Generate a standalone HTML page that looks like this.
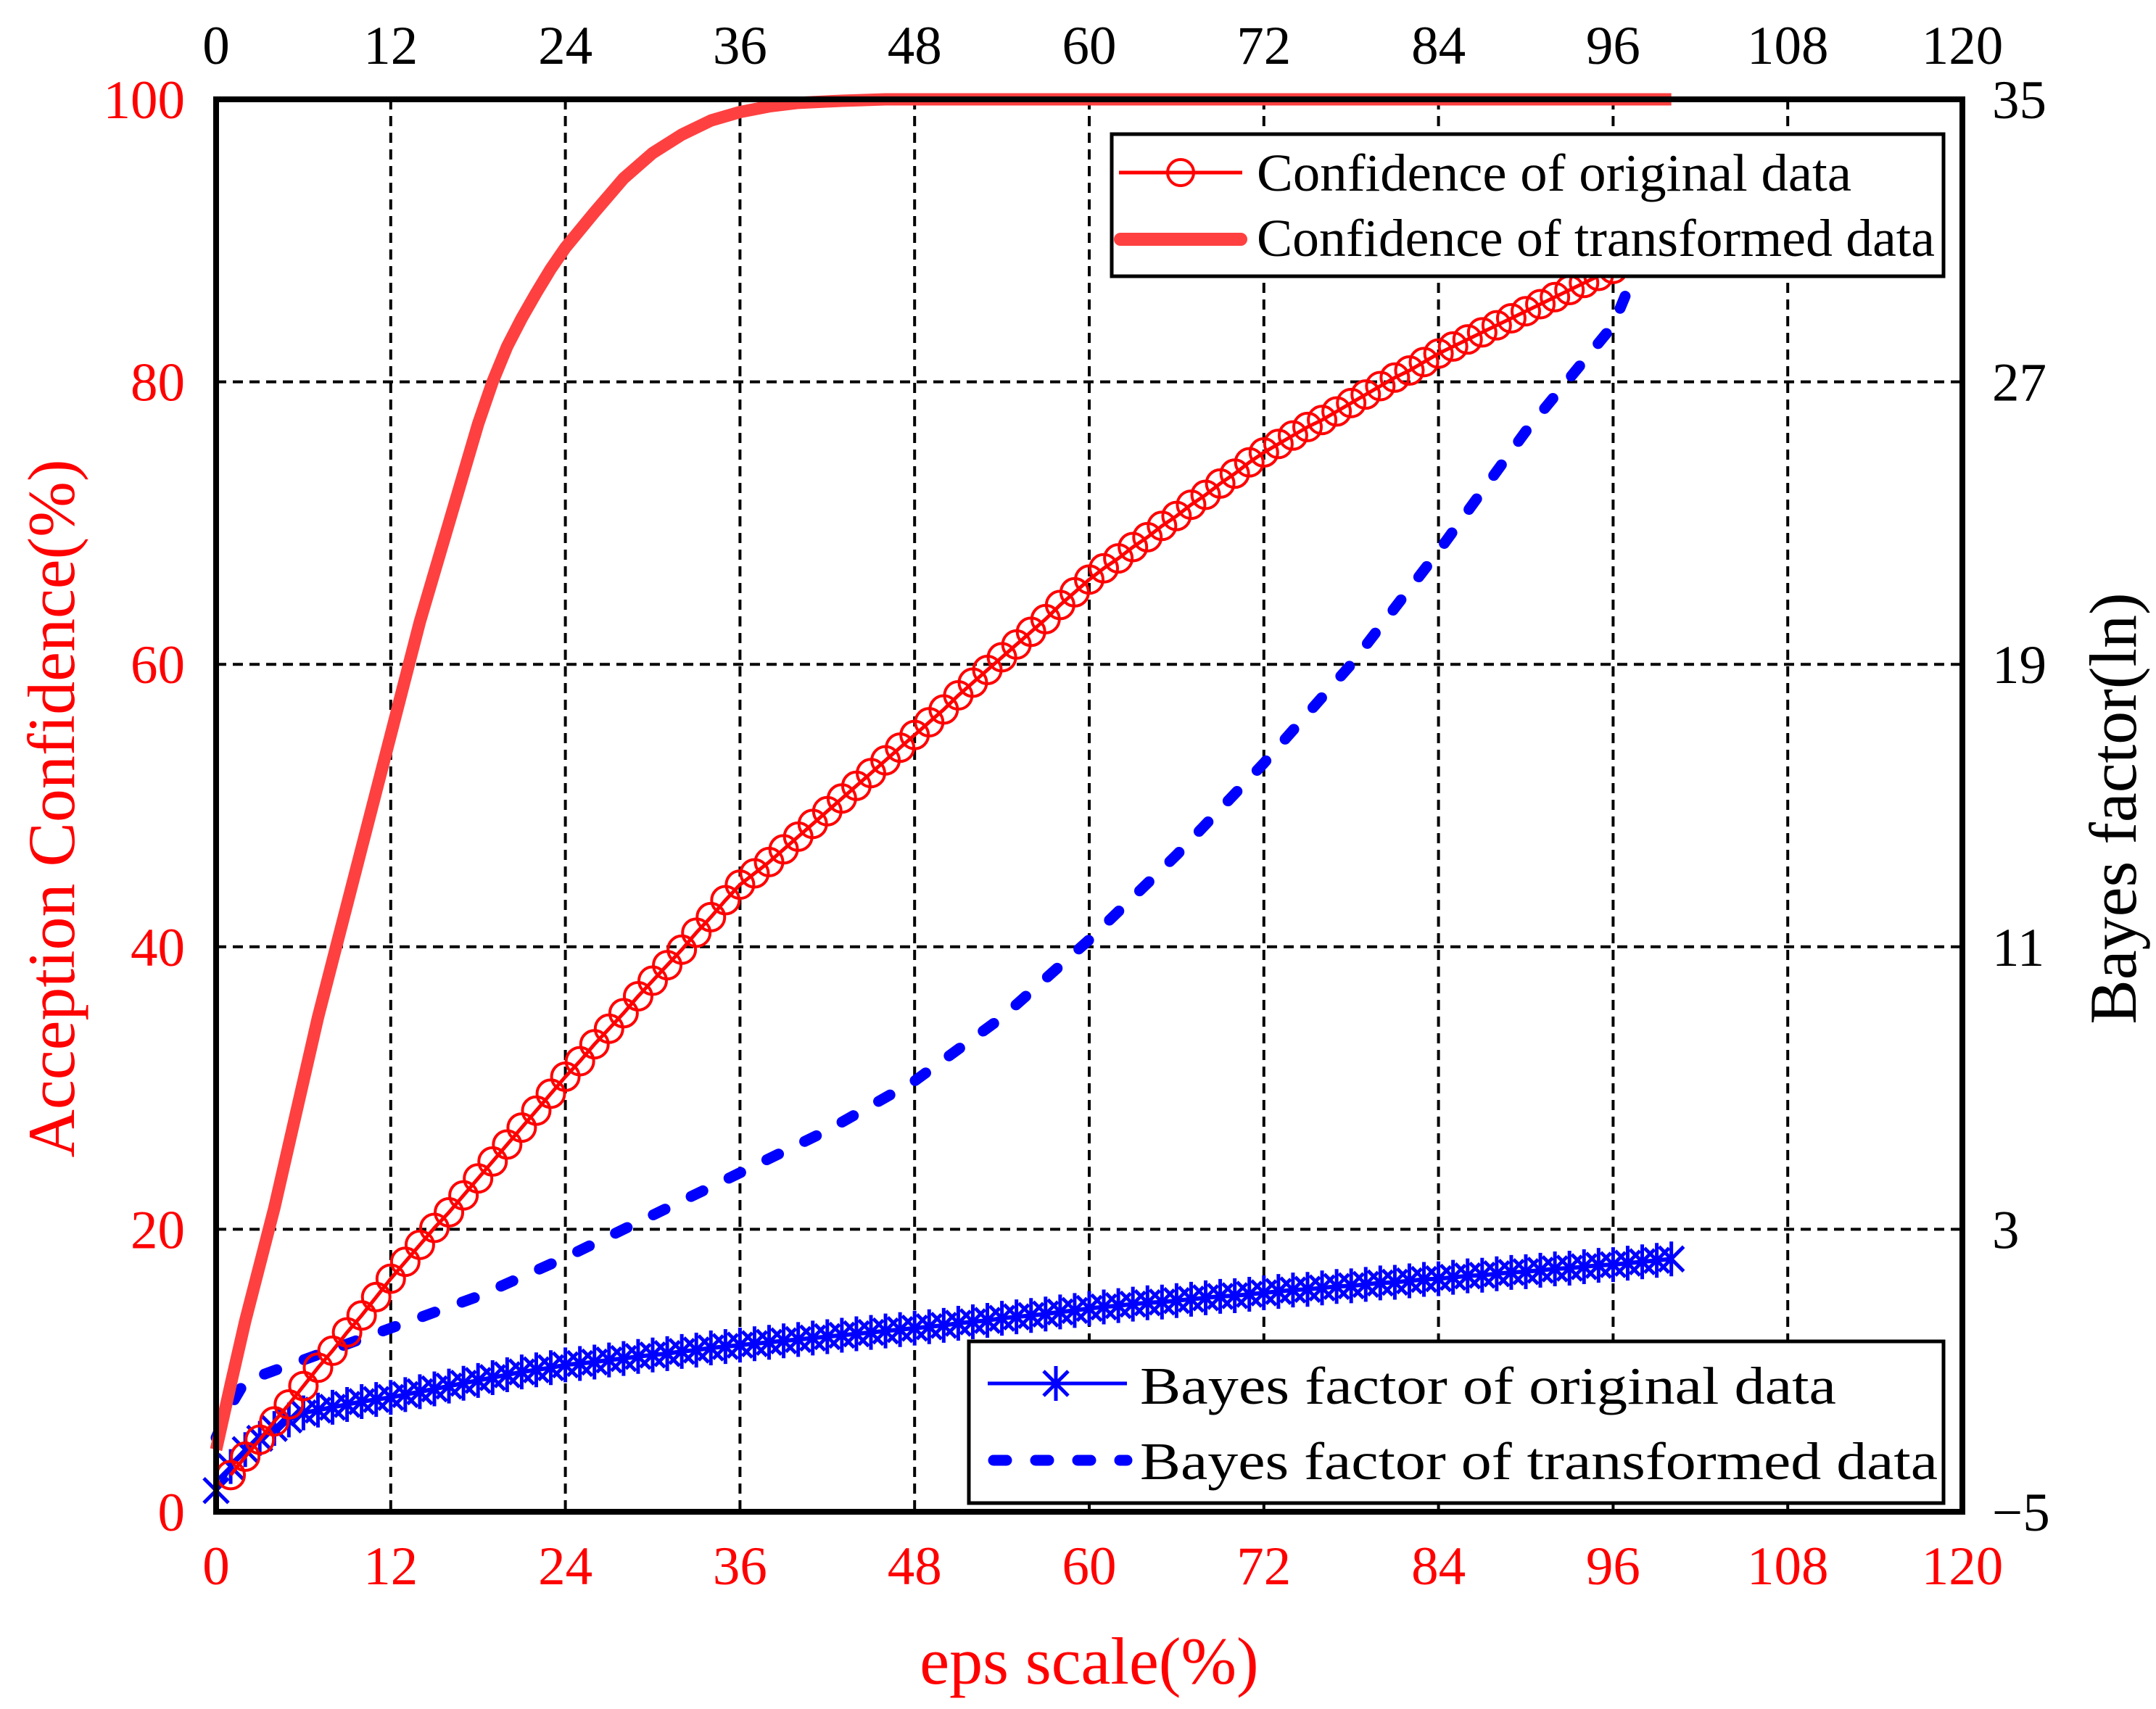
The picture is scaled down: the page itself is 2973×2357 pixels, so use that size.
<!DOCTYPE html>
<html><head><meta charset="utf-8"><style>
html,body{margin:0;padding:0;background:#fff;}
svg{display:block;font-family:"Liberation Serif",serif;}
</style></head><body>
<svg id="chart" width="2973" height="2357" viewBox="0 0 2973 2357" xmlns="http://www.w3.org/2000/svg">
<g id="grid"></g>
<g id="series"></g>
<g id="axes"></g>
<text x="1502" y="2322" font-size="92" fill="#ff0000" text-anchor="middle">eps scale(%)</text>
<text transform="translate(102,1115) rotate(-90)" font-size="92" fill="#ff0000" text-anchor="middle">Acception Confidence(%)</text>
<text transform="translate(2945,1115) rotate(-90)" font-size="92" fill="#000" text-anchor="middle">Bayes factor(ln)</text>
<g id="legend-top">
<rect x="1533" y="185" width="1147" height="196" fill="#fff" stroke="#000" stroke-width="5"/>
<line x1="1543" y1="238" x2="1713" y2="238" stroke="#ff0000" stroke-width="5"/>
<circle cx="1628" cy="238" r="18" fill="none" stroke="#ff0000" stroke-width="4"/>
<text x="1733" y="263" font-size="73" textLength="820" lengthAdjust="spacingAndGlyphs">Confidence of original data</text>
<line x1="1545" y1="330" x2="1711" y2="330" stroke="#ff4040" stroke-width="18" stroke-linecap="round"/>
<text x="1733" y="353" font-size="73" textLength="935" lengthAdjust="spacingAndGlyphs">Confidence of transformed data</text>
</g>
<g id="legend-bottom">
<rect x="1336" y="1850" width="1344" height="223" fill="#fff" stroke="#000" stroke-width="5"/>
<line x1="1362" y1="1908" x2="1554" y2="1908" stroke="#0000ff" stroke-width="5"/>
<g stroke="#0000ff" stroke-width="5">
<line x1="1456" y1="1884" x2="1456" y2="1932"/>
<line x1="1439" y1="1891" x2="1473" y2="1925"/>
<line x1="1439" y1="1925" x2="1473" y2="1891"/>
</g>
<text x="1572" y="1936" font-size="73" textLength="960" lengthAdjust="spacingAndGlyphs">Bayes factor of original data</text>
<line x1="1370" y1="2014" x2="1554" y2="2014" stroke="#0000ff" stroke-width="15" stroke-linecap="round" stroke-dasharray="18 40"/>
<text x="1572" y="2040" font-size="73" textLength="1100" lengthAdjust="spacingAndGlyphs">Bayes factor of transformed data</text>
</g>
</svg>
<script>
// ---- data ----
const xTicks = [0,12,24,36,48,60,72,84,96,108,120];
const leftTicks = [0,20,40,60,80,100];
const rightTicks = [-5,3,11,19,27,35];

const confTransX = [0,1,2,3,4,5,6,7,8,9,10,11,12,13,14,15,16,17,18,19,20,21,22,23,24,26,28,30,32,34,36,38,40,43,46,100];
const confTransY = [4.4,9,13.5,17.5,21.5,26,30.5,35,39,43,47,51,55,59,63,66.5,70,73.5,77,80,82.5,84.5,86.3,88,89.5,92,94.4,96.2,97.5,98.5,99.1,99.5,99.75,99.9,100,100];

const confOrigY = [2.6,3.9,5.1,6.4,7.6,8.9,10.2,11.4,12.7,13.9,15.2,16.5,17.7,18.9,20.1,21.2,22.4,23.6,24.8,26.0,27.2,28.4,29.6,30.8,31.9,33.1,34.2,35.3,36.5,37.6,38.7,39.8,41.0,42.1,43.3,44.4,45.2,46.0,46.9,47.8,48.7,49.6,50.5,51.4,52.3,53.2,54.1,55.0,55.9,56.8,57.8,58.7,59.6,60.5,61.4,62.3,63.2,64.2,65.1,66.0,66.8,67.5,68.3,69.0,69.8,70.5,71.3,72.0,72.8,73.5,74.3,75.0,75.6,76.2,76.8,77.3,77.9,78.5,79.1,79.7,80.3,80.8,81.4,82.0,82.5,83.0,83.5,84.0,84.5,85.0,85.5,86.0,86.5,87.0,87.5,88.0,88.5];

const bayesOrigPct = [1.5,3.2,4.4,5.2,5.9,6.5,7.0,7.2,7.4,7.6,7.8,7.95,8.1,8.3,8.5,8.7,8.9,9.1,9.3,9.5,9.7,9.9,10.05,10.2,10.4,10.5,10.6,10.75,10.85,11.0,11.1,11.2,11.35,11.45,11.6,11.7,11.8,11.9,12.0,12.1,12.2,12.3,12.4,12.5,12.6,12.7,12.8,12.9,13.0,13.1,13.2,13.35,13.45,13.55,13.7,13.8,13.9,14.0,14.15,14.25,14.4,14.5,14.6,14.7,14.8,14.85,14.95,15.05,15.15,15.25,15.3,15.4,15.5,15.6,15.7,15.75,15.85,15.95,16.0,16.1,16.2,16.25,16.35,16.45,16.5,16.6,16.7,16.75,16.85,16.95,17.0,17.1,17.2,17.25,17.35,17.45,17.5,17.6,17.7,17.8,17.9];

const bayesTransX = [0,1,2,4,6,9,12,18,24,30,36,42,48,54,60,66,72,78,84,90,96,98];
const bayesTransY = [-2.9,-2.0,-1.3,-1.0,-0.7,-0.25,0.2,1.1,2.2,3.4,4.6,5.8,7.2,9.0,11.2,13.6,16.2,19.0,22.2,25.6,28.6,30.6];

// ---- scales ----
const X0=298, X1=2706, Y0=137, Y1=2085;
const sx = v => X0 + (v-0)/(120-0)*(X1-X0);
const syL = v => Y1 - (v-0)/(100-0)*(Y1-Y0);
const syR = v => Y1 - (v-(-5))/(35-(-5))*(Y1-Y0);
const NS="http://www.w3.org/2000/svg";
function mk(tag, attrs, parent){const e=document.createElementNS(NS,tag);for(const k in attrs)e.setAttribute(k,attrs[k]);parent.appendChild(e);return e;}

const grid=document.getElementById('grid');
const series=document.getElementById('series');
const axes=document.getElementById('axes');

xTicks.forEach((t,i)=>{
  if(i>0 && i<xTicks.length-1){
    const l=mk('line',{x1:sx(t),y1:Y0,x2:sx(t),y2:Y1,stroke:'#000','stroke-width':4,'stroke-dasharray':'14 9'},grid);
    
    
  }
  const b=mk('text',{x:sx(t),y:2185,'font-size':75,fill:'#ff0000','text-anchor':'middle'},axes);
  b.textContent=t;
  
  
  const tp=mk('text',{x:sx(t),y:88,'font-size':75,fill:'#000','text-anchor':'middle'},axes);
  tp.textContent=t;
  
  
});
leftTicks.forEach((t,i)=>{
  if(i>0 && i<leftTicks.length-1){
    const l=mk('line',{x1:X0,y1:syL(t),x2:X1,y2:syL(t),stroke:'#000','stroke-width':4,'stroke-dasharray':'14 9'},grid);
    
    
  }
  const lb=mk('text',{x:255,y:syL(t)+26,'font-size':75,fill:'#ff0000','text-anchor':'end'},axes);
  lb.textContent=t;
  
  
});
rightTicks.forEach(t=>{
  const lb=mk('text',{x:2747,y:syR(t)+26,'font-size':75,fill:'#000','text-anchor':'start'},axes);
  lb.textContent=(t<0?'\u2212'+(-t):t);
  
  
});
const frame=mk('rect',{x:X0,y:Y0,width:X1-X0,height:Y1-Y0,fill:'none',stroke:'#000','stroke-width':8},axes);



// Bayes transformed (dashed)
let d=bayesTransX.map((x,i)=>(i?'L':'M')+sx(x)+' '+syR(bayesTransY[i])).join(' ');
const bt=mk('path',{d:d,fill:'none',stroke:'#0000ff','stroke-width':15,'stroke-linecap':'round','stroke-linejoin':'round','stroke-dasharray':'18 40'},series);



// Bayes original (stars)
const bo=bayesOrigPct.map(p=>-5+p*0.4);
d=bo.map((v,i)=>(i?'L':'M')+sx(i)+' '+syR(v)).join(' ');
const bol=mk('path',{d:d,fill:'none',stroke:'#0000ff','stroke-width':6},series);


const starG=mk('g',{stroke:'#0000ff','stroke-width':5},series);


bo.forEach((v,i)=>{
  const cx=sx(i), cy=syR(v), r=24, q=17;
  const s=mk('path',{d:`M${cx} ${cy-r}L${cx} ${cy+r}M${cx-q} ${cy-q}L${cx+q} ${cy+q}M${cx-q} ${cy+q}L${cx+q} ${cy-q}`},starG);
  
  
});

// Confidence original (circles)
d=confOrigY.map((v,i)=>(i?'L':'M')+sx(i+1)+' '+syL(v)).join(' ');
const col=mk('path',{d:d,fill:'none',stroke:'#ff0000','stroke-width':5},series);


const circG=mk('g',{fill:'none',stroke:'#ff0000','stroke-width':4},series);


confOrigY.forEach((v,i)=>{
  const c=mk('circle',{cx:sx(i+1),cy:syL(v),r:19},circG);
  
  
});

// Confidence transformed (thick)
d=confTransX.map((x,i)=>(i?'L':'M')+sx(x)+' '+syL(confTransY[i])).join(' ');
const ct=mk('path',{d:d,fill:'none',stroke:'#ff4040','stroke-width':17,'stroke-linejoin':'round'},series);


</script>
</body></html>
